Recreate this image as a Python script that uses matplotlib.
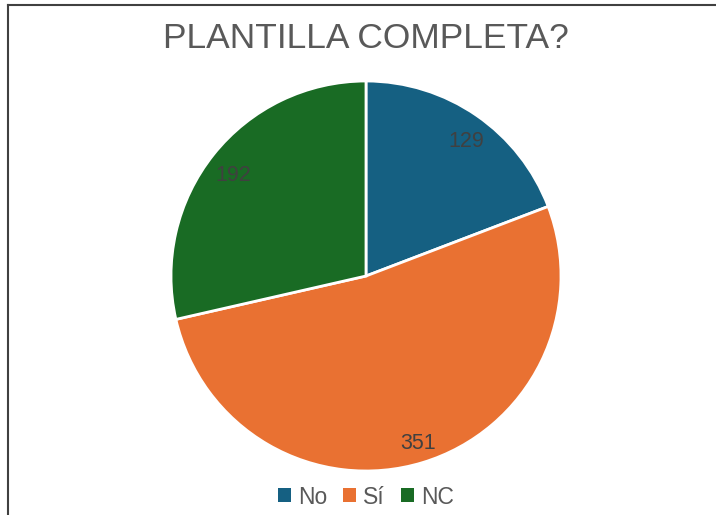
import matplotlib
matplotlib.use("Agg")
import matplotlib.pyplot as plt
from matplotlib.patches import Patch
from matplotlib.lines import Line2D

categories = ["No", "Sí", "NC"]
values = [129, 351, 192]
colors = ["#156082", "#E97132", "#196B24"]
title = "PLANTILLA COMPLETA?"

plt.rcParams['font.family'] = ['Liberation Sans', 'DejaVu Sans']

W, H = 716, 515
fig = plt.figure(figsize=(W / 100, H / 100), dpi=100)
ax = fig.add_axes([0, 0, 1, 1])

wedges, texts, autotexts = ax.pie(
    values, colors=colors, startangle=90, counterclock=False,
    center=(366, H - 276), radius=195, frame=True,
    autopct=lambda p: f"{round(p * sum(values) / 100):d}", pctdistance=0.87,
    wedgeprops=dict(edgecolor="white", linewidth=2.0),
    textprops=dict(color="#404040", fontsize=15.5))
ax.set_xlim(0, W)
ax.set_ylim(0, H)
ax.set_aspect('equal')
ax.axis('off')

# small nudges to match label placement
nudges = [(4, -5), (3, -5), (0, -5)]
for t, (dx, dy) in zip(autotexts, nudges):
    x, y = t.get_position()
    t.set_position((x + dx, y + dy))

ax.text(366, H - 39, title, ha='center', va='center', fontsize=25.5, color="#595959")

# border (top and left)
fig.add_artist(Line2D([8 / W, 1], [1 - 4.5 / H, 1 - 4.5 / H], color="#404040", lw=1.5, transform=fig.transFigure))
fig.add_artist(Line2D([8 / W, 8 / W], [0, 1 - 4.5 / H], color="#404040", lw=1.5, transform=fig.transFigure))

handles = [Patch(facecolor=c, edgecolor='none') for c in colors]
fig.legend(handles, categories, loc='center', bbox_to_anchor=(366 / W, 1 - 497 / H),
           ncol=3, frameon=False, fontsize=16.5, labelcolor="#595959",
           handlelength=0.55, handleheight=0.55, handletextpad=0.32, columnspacing=0.7)

fig.savefig("out.png", dpi=100)
